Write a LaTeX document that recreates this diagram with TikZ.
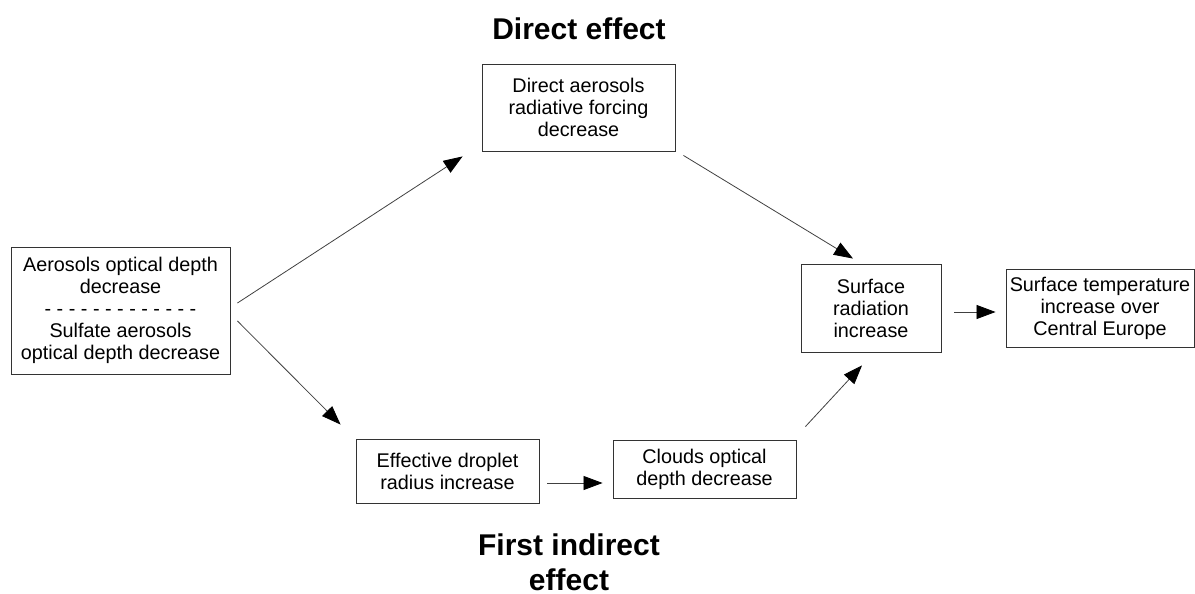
\documentclass[tikz,border=0pt]{standalone}
\usepackage{fontspec}
\setmainfont{Liberation Sans}
\usetikzlibrary{arrows.meta}
\begin{document}
\begin{tikzpicture}[x=1pt,y=-1pt,
  box/.style={draw=black!80, line width=0.9pt, align=center, inner sep=0pt,
    font=\fontsize{19.8}{22}\selectfont},
  arr/.style={-{Triangle[length=19pt,width=14pt,color=black]}, line width=0.8pt, draw=black!75},
  ttl/.style={font=\fontsize{30}{35}\selectfont\bfseries, align=center}]
\useasboundingbox (0,0) rectangle (1195,594);
\node[box, minimum width=219pt, minimum height=127pt] (L) at (120.5,310.5)
  {Aerosols optical depth\\decrease\\- - - - - - - - - - - - -\\Sulfate aerosols\\optical depth decrease};
\node[box, minimum width=193pt, minimum height=87pt] (D) at (578.5,107.5)
  {Direct aerosols\\radiative forcing\\decrease};
\node[box, minimum width=140pt, minimum height=88pt] (S) at (871,308)
  {Surface\\radiation\\increase};
\node[box, minimum width=188pt, minimum height=78pt] (T) at (1100,308)
  {Surface temperature\\increase over\\Central Europe};
\node[box, minimum width=183pt, minimum height=64pt] (E) at (447.5,471)
  {Effective droplet\\radius increase};
\node[box, minimum width=183pt, minimum height=58pt] (C) at (704.5,469)
  {Clouds optical\\depth decrease};
\node[ttl, anchor=base] (t1) at (579,39.5) {Direct effect};
\node[ttl, anchor=base] (t2) at (569,590) {First indirect\\effect};
\draw[arr] ([shift={(7,-7.5)}]L.east) -- ([shift={(-19,5)}]D.south west);
\draw[arr] ([shift={(7,10.5)}]L.east) -- ([shift={(-15,-14)}]E.north west);
\draw[arr] ([shift={(8,4)}]D.south east) -- ([shift={(-18,-5)}]S.north);
\draw[arr] ([shift={(9,-13)}]C.north east) -- ([shift={(-9,13)}]S.south);
\draw[arr] ([shift={(8,12)}]E.east) -- ([shift={(-10,14)}]C.west);
\draw[arr] ([shift={(13,4)}]S.east) -- ([shift={(-10,4)}]T.west);
\end{tikzpicture}
\end{document}
